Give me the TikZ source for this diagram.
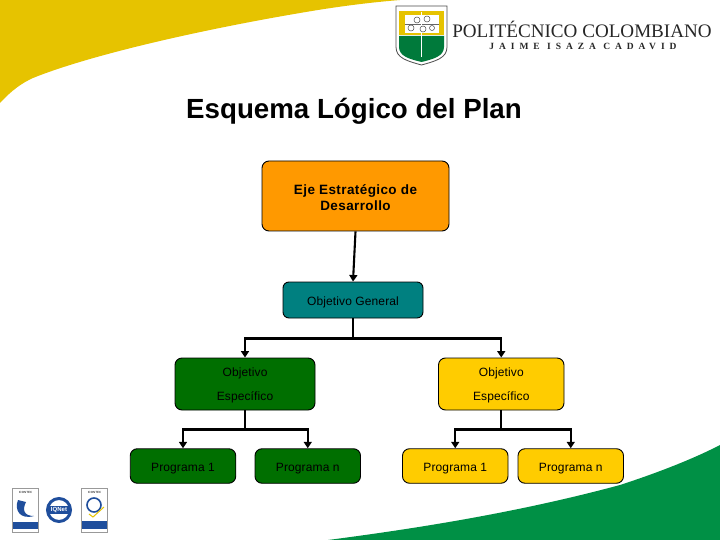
\documentclass[tikz,border=0pt]{standalone}
\usepackage{fontspec}
\setmainfont{Liberation Sans}
\newfontfamily\logoserif{Liberation Serif}
\usetikzlibrary{arrows.meta}
\definecolor{swyellow}{HTML}{E6C300}
\definecolor{swgreen}{HTML}{009045}
\definecolor{orangebox}{HTML}{FF9900}
\definecolor{tealbox}{HTML}{008080}
\definecolor{greenbox}{HTML}{006F00}
\definecolor{yellowbox}{HTML}{FFCC00}
\definecolor{badgeblue}{HTML}{1F4E9C}
\newcommand{\lowa}{\rule{0pt}{13pt}}
\newcommand{\lowb}{\rule{0pt}{11pt}}
\tikzset{
  box/.style={draw=black,line width=0.9pt,rounded corners=7pt,inner sep=0pt,anchor=center,text=black,align=center},
  boxtext/.style={font=\fontsize{12}{24}\selectfont\addfontfeatures{LetterSpace=1}},
  prog/.style={box,boxtext,minimum width=105.5pt,minimum height=34.5pt},
  objesp/.style={box,boxtext,minimum height=52pt},
  conn/.style={line width=2.1pt,draw=black},
  arr/.style={conn,-{Triangle[length=6.5pt,width=8pt]}},
  badge/.style={draw=black!40,line width=0.4pt,fill=white},
  tiny/.style={inner sep=0pt,font=\fontsize{3}{3.5}\selectfont,align=center}
}
\begin{document}
\begin{tikzpicture}[x=1pt,y=-1pt]
\useasboundingbox (0,0) rectangle (720,540);
% swooshes
\fill[swyellow] (0,0) -- (0,103) .. controls (12,90) and (22,83) .. (33,78)
  .. controls (90,55) and (200,30) .. (300,13) .. controls (340,6) and (375,2) .. (400,0) -- cycle;
\fill[swgreen] (720,540) -- (328,540) .. controls (420,528) and (520,512) .. (620,485)
  .. controls (660,472) and (695,458) .. (720,445) -- cycle;
% shield
\draw[black!70,line width=0.8pt,fill=white] (396,6) -- (447,6) -- (447,47) .. controls (447,58) and (436,61) .. (421.5,65)
  .. controls (407,61) and (396,58) .. (396,47) -- cycle;
\fill[swyellow] (399,11) rectangle (444,35);
\fill[white] (405,15) rectangle (439,33);
\fill[swgreen!85!black] (399,36) -- (444,36) -- (444,47) .. controls (444,56) and (434,59) .. (421.5,62)
  .. controls (409,59) and (399,56) .. (399,47) -- cycle;
\draw[black!60,line width=0.4pt] (405,24) -- (439,24);
\draw[white,line width=0.8pt] (421.5,12) -- (421.5,57);
\draw[black!70,line width=0.5pt] (417,20) circle (3) (427,19) circle (3) (411,28) circle (3) (423,29) circle (3) (432,28) circle (2.5);
% logo text
\node[inner sep=0pt,text=black!85] (logoa) at (582,29.5) {\logoserif\fontsize{19.1}{19}\selectfont POLITÉCNICO COLOMBIANO};
\node[inner sep=0pt,text=black!85] (logob) at (583,46.5) {\logoserif\bfseries\fontsize{9.5}{10}\selectfont\addfontfeatures{LetterSpace=52}JAIME ISAZA CADAVID};
% title
\node[inner sep=0pt,font=\bfseries\fontsize{27.7}{30}\selectfont] (title) at (354,111.5) {Esquema Lógico del Plan};
% boxes
\node[box,fill=orangebox,minimum width=187pt,minimum height=70pt,font=\bfseries\fontsize{13.5}{16}\selectfont\addfontfeatures{LetterSpace=3}] (eje) at (355.5,196) {\lowa Eje Estratégico de\\[-0.2pt]Desarrollo};
\node[box,boxtext,fill=tealbox,minimum width=140pt,minimum height=36pt,rounded corners=6pt] (og) at (353,300) {\lowa Objetivo General};
\node[objesp,fill=greenbox,minimum width=140pt] (oe1) at (245,384) {\lowb Objetivo\\Específico};
\node[objesp,fill=yellowbox,minimum width=125.5pt] (oe2) at (501.25,384) {\lowb Objetivo\\Específico};
\node[prog,fill=greenbox] (p1) at (183,466) {\lowa Programa 1};
\node[prog,fill=greenbox] (p2) at (307.75,466) {\lowa Programa n};
\node[prog,fill=yellowbox] (p3) at (455.25,466) {\lowa Programa 1};
\node[prog,fill=yellowbox] (p4) at (570.75,466) {\lowa Programa n};
% connectors
\draw[arr] (eje.south) -- (og.north);
\coordinate (jog) at ([yshift=-20pt]og.south);
\draw[conn] (og.south) -- (jog);
\draw[arr] (jog) -| (oe1.north);
\draw[arr] (jog) -| (oe2.north);
\coordinate (j1) at ([yshift=-19pt]oe1.south);
\draw[conn] (oe1.south) -- (j1);
\draw[arr] (j1) -| (p1.north);
\draw[arr] (j1) -| (p2.north);
\coordinate (j2) at ([yshift=-19pt]oe2.south);
\draw[conn] (oe2.south) -- (j2);
\draw[arr] (j2) -| (p3.north);
\draw[arr] (j2) -| (p4.north);
% badges
\draw[badge] (12.5,488.5) rectangle (38.5,532);
\fill[badgeblue] (13,522) rectangle (38,529);
\fill[badgeblue] (18,500) .. controls (14,510) and (20,520) .. (34,516) .. controls (24,516) and (22,510) .. (26,502) -- cycle;
\node[tiny,text=black] (b1) at (25.5,492.5) {ICONTEC};
\draw[badge] (81.5,488.5) rectangle (107.5,532);
\fill[badgeblue] (82,521) rectangle (107,529);
\draw[badgeblue,line width=1.6pt] (94,505) circle (7);
\draw[swyellow,line width=1pt] (89,514) -- (93,517) -- (104,507);
\node[tiny,text=black] (b2) at (94.5,492.5) {ICONTEC};
\draw[badgeblue,line width=3pt,fill=white] (59,510) circle (11.5);
\fill[badgeblue] (48,506) rectangle (70,514);
\node[inner sep=0pt,font=\bfseries\fontsize{6}{6}\selectfont,text=white] (b3) at (59,510) {IQNet};
\end{tikzpicture}
\end{document}
